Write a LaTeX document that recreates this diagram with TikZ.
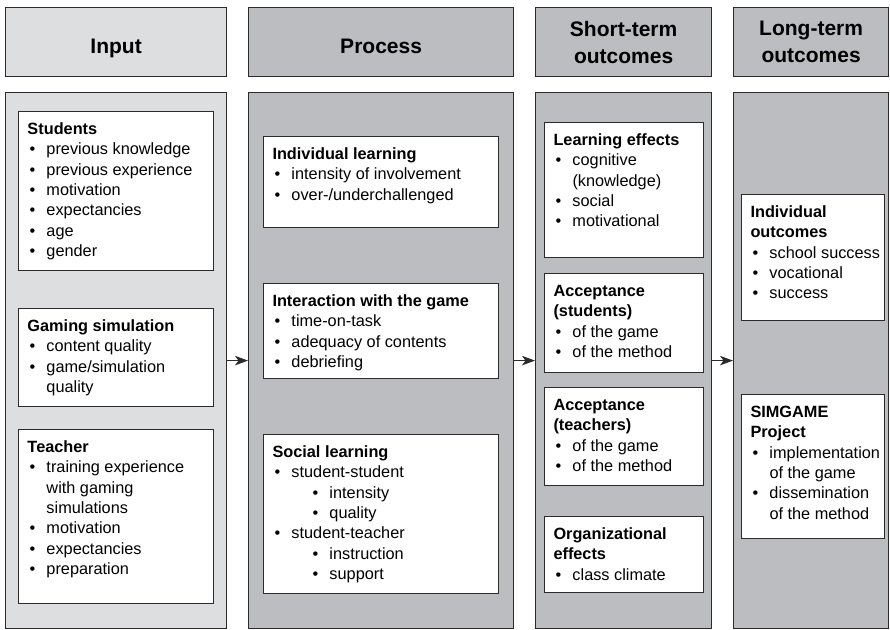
\documentclass[tikz,border=0pt]{standalone}
\usepackage{fontspec}
\setmainfont{Liberation Sans}
\usetikzlibrary{arrows.meta}
\definecolor{ink}{HTML}{2B2B2B}
\definecolor{panelpale}{HTML}{DDDEE0}
\definecolor{panel}{HTML}{BCBDC0}

% one card: width, height, lines
\newcommand\cardbody[3]{\begin{minipage}[t][#2][t]{#1}\raggedright\rule{0pt}{23pt}#3\end{minipage}}
\newcommand\ttl[1]{\hspace*{9pt}\textbf{#1}\par}
\newcommand\itm[1]{\makebox[28pt][l]{\hspace{11pt}\textbullet}#1\par}
\newcommand\cnt[1]{\hspace*{28pt}#1\par}
\newcommand\subitm[1]{\makebox[66pt][l]{\hspace{49pt}\textbullet}#1\par}

\tikzset{
  colhead/.style={draw=ink,line width=1.2pt,anchor=north west,inner sep=0pt,align=center,
    font=\bfseries\fontsize{21}{27}\selectfont},
  onehead/.style={text height=22pt,text depth=0pt},
  colbody/.style={draw=ink,line width=1.2pt,anchor=north west,inner sep=0pt},
  card/.style={draw=ink,fill=white,line width=1pt,anchor=north west,inner sep=0pt,
    font=\fontsize{16.3}{20.3}\selectfont},
  flow/.style={ink,line width=1.1pt,-{Stealth[length=13pt,width=9.5pt,inset=3.5pt]}},
}

\begin{document}
\begin{tikzpicture}[x=1pt,y=-1pt]
  \path[fill=white,use as bounding box] (0,0) rectangle (890,629);

  % Column headers.
  \node[colhead,onehead,fill=panelpale,minimum width=221pt,minimum height=69pt] (inputhead) at (5,7) {Input};
  \node[colhead,onehead,fill=panel,minimum width=265pt,minimum height=69pt] (processhead) at (248,7) {Process};
  \node[colhead,fill=panel,minimum width=176pt,minimum height=69pt] (shorthead) at (535,7) {Short-term\\outcomes};
  \node[colhead,fill=panel,minimum width=155pt,minimum height=69pt] (longhead) at (733,7) {Long-term\\outcomes};

  % Column bodies.
  \node[colbody,fill=panelpale,minimum width=221pt,minimum height=536pt] (input) at (5,92) {};
  \node[colbody,fill=panel,minimum width=265pt,minimum height=536pt] (process) at (248,92) {};
  \node[colbody,fill=panel,minimum width=176pt,minimum height=536pt] (short) at (535,92) {};
  \node[colbody,fill=panel,minimum width=155pt,minimum height=536pt] (long) at (733,92) {};

  % Input cards.
  \node[card] (students) at (18,111) {\cardbody{195pt}{159pt}{%
    \ttl{Students}\itm{previous knowledge}\itm{previous experience}\itm{motivation}
    \itm{expectancies}\itm{age}\itm{gender}}};
  \node[card] (gaming) at (18,308) {\cardbody{195pt}{98pt}{%
    \ttl{Gaming simulation}\itm{content quality}\itm{game/simulation}\cnt{quality}}};
  \node[card] (teacher) at (18,429) {\cardbody{195pt}{174pt}{%
    \ttl{Teacher}\itm{training experience}\cnt{with gaming}\cnt{simulations}
    \itm{motivation}\itm{expectancies}\itm{preparation}}};

  % Process cards.
  \node[card] (individual) at (263,136) {\cardbody{235pt}{91pt}{%
    \ttl{Individual learning}\itm{intensity of involvement}\itm{over-/underchallenged}}};
  \node[card] (interaction) at (263,283) {\cardbody{235pt}{95pt}{%
    \ttl{Interaction with the game}\itm{time-on-task}\itm{adequacy of contents}\itm{debriefing}}};
  \node[card] (social) at (263,434) {\cardbody{235pt}{159pt}{%
    \ttl{Social learning}\itm{student-student}\subitm{intensity}\subitm{quality}
    \itm{student-teacher}\subitm{instruction}\subitm{support}}};

  % Short-term cards.
  \node[card] (effects) at (544,122) {\cardbody{159pt}{135pt}{%
    \ttl{Learning effects}\itm{cognitive}\cnt{(knowledge)}\itm{social}\itm{motivational}}};
  \node[card] (accstudents) at (544,273) {\cardbody{159pt}{99pt}{%
    \ttl{Acceptance}\ttl{(students)}\itm{of the game}\itm{of the method}}};
  \node[card] (accteachers) at (544,387) {\cardbody{159pt}{98pt}{%
    \ttl{Acceptance}\ttl{(teachers)}\itm{of the game}\itm{of the method}}};
  \node[card] (orgeffects) at (544,516) {\cardbody{159pt}{76pt}{%
    \ttl{Organizational}\ttl{effects}\itm{class climate}}};

  % Long-term cards.
  \node[card] (indoutcomes) at (741,194) {\cardbody{143pt}{126pt}{%
    \ttl{Individual}\ttl{outcomes}\itm{school success}\itm{vocational}\itm{success}}};
  \node[card] (simgame) at (741,394) {\cardbody{143pt}{144pt}{%
    \ttl{SIMGAME}\ttl{Project}\itm{implementation}\cnt{of the game}
    \itm{dissemination}\cnt{of the method}}};

  % Links between the columns.
  \draw[flow] (input.east) -- (process.west);
  \draw[flow] (process.east) -- (short.west);
  \draw[flow] (short.east) -- (long.west);
\end{tikzpicture}
\end{document}
